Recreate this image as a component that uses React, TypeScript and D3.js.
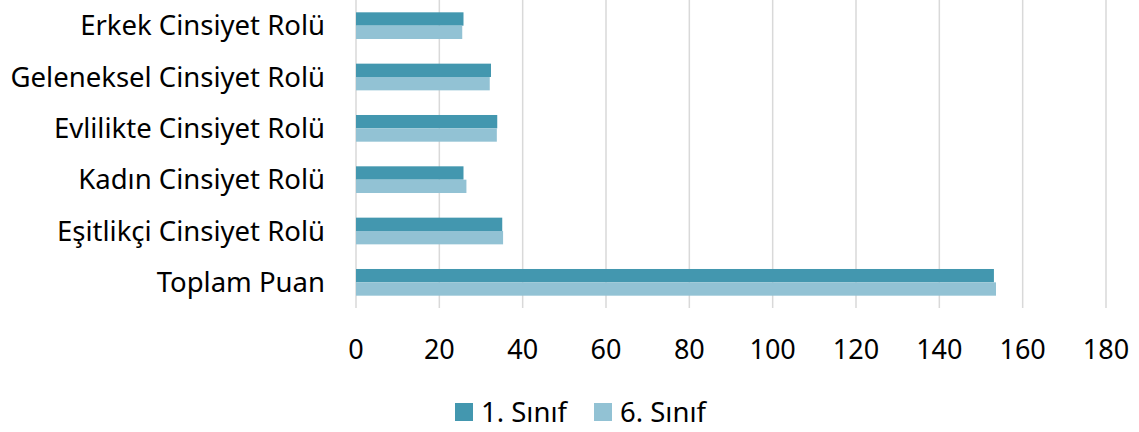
import React, { useEffect, useRef } from 'react';
import * as d3 from 'd3';

const categories = [
  'Erkek Cinsiyet Rolü',
  'Geleneksel Cinsiyet Rolü',
  'Evlilikte Cinsiyet Rolü',
  'Kadın Cinsiyet Rolü',
  'Eşitlikçi Cinsiyet Rolü',
  'Toplam Puan',
];
const seriesNames = ['1. Sınıf', '6. Sınıf'];
const sinif1 = [25.8, 32.4, 33.9, 25.8, 35.1, 153.1];
const sinif6 = [25.5, 32.1, 33.8, 26.5, 35.3, 153.6];
const xTicks = [0, 20, 40, 60, 80, 100, 120, 140, 160, 180];
const colors = ['#4397AF', '#92C2D4'];

const App: React.FC = () => {
  const svgRef = useRef<SVGSVGElement>(null);

  useEffect(() => {
    if (!svgRef.current) return;
    d3.select(svgRef.current).selectAll('*').remove();

    const width = 1139;
    const height = 432;
    const font = "'Noto Sans', sans-serif";

    const svg = d3.select(svgRef.current)
      .attr('width', width)
      .attr('height', height)
      .style('display', 'block');

    const x = d3.scaleLinear().domain([0, 180]).range([356, 1106]);
    const y = d3.scaleBand().domain(categories).range([0, 308]).paddingInner(0.48).paddingOuter(0.24);
    const inner = d3.scaleBand().domain(seriesNames).range([0, y.bandwidth()]);

    // Gridlines
    svg.append('g')
      .selectAll('line')
      .data(xTicks)
      .enter().append('line')
      .attr('x1', d => x(d)).attr('x2', d => x(d))
      .attr('y1', 0).attr('y2', 308)
      .attr('stroke', '#D9D9D9')
      .attr('stroke-width', 1.5);

    // Bars
    const seriesData = [sinif1, sinif6];
    seriesData.forEach((vals, si) => {
      svg.append('g')
        .selectAll('rect')
        .data(vals)
        .enter().append('rect')
        .attr('x', x(0))
        .attr('y', (_, i) => (y(categories[i]) ?? 0) + (inner(seriesNames[si]) ?? 0))
        .attr('width', d => x(d) - x(0))
        .attr('height', inner.bandwidth())
        .attr('fill', colors[si]);
    });

    // Category labels
    svg.append('g')
      .selectAll('text')
      .data(categories)
      .enter().append('text')
      .attr('x', 325)
      .attr('y', d => (y(d) ?? 0) + y.bandwidth() / 2)
      .attr('dy', '0.35em')
      .attr('text-anchor', 'end')
      .style('font-family', font)
      .style('font-size', '27.5px')
      .style('fill', '#000')
      .text(d => d);

    // X tick labels
    svg.append('g')
      .selectAll('text')
      .data(xTicks)
      .enter().append('text')
      .attr('x', d => x(d))
      .attr('y', 359)
      .attr('text-anchor', 'middle')
      .style('font-family', font)
      .style('font-size', '27px')
      .style('fill', '#000')
      .text(d => d);

    // Legend
    const legendX = [455, 594];
    seriesNames.forEach((name, i) => {
      const g = svg.append('g').attr('transform', `translate(${legendX[i]},403)`);
      g.append('rect').attr('width', 18).attr('height', 18).attr('fill', colors[i]);
      g.append('text')
        .attr('x', 26)
        .attr('y', 9)
        .attr('dy', '0.35em')
        .style('font-family', font)
        .style('font-size', '27.5px')
        .style('fill', '#000')
        .text(name);
    });
  }, []);

  return <svg ref={svgRef} style={{ position: 'absolute', left: 0, top: 0 }} />;
};

export default App;
